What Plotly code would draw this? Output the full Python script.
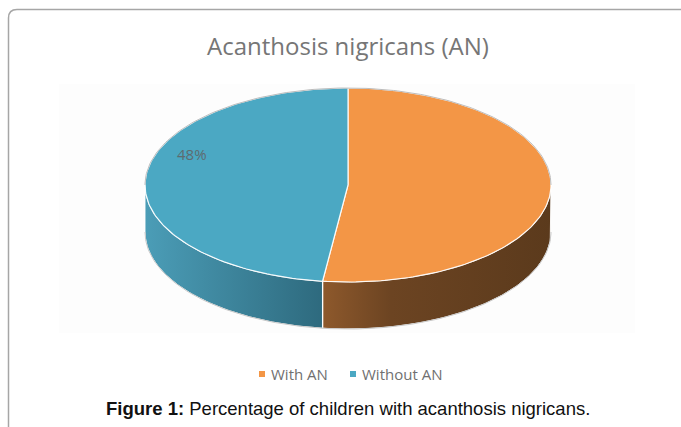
import numpy as np
import plotly.graph_objects as go

# Survey result: share of children with / without acanthosis nigricans
categories = ["With AN", "Without AN"]
percentages = [52, 48]

top_colors = ["#F39646", "#4BA8C3"]
side_scales = [
    [[0, "#8E592C"], [0.3, "#6C4422"], [1, "#5B3A1C"]],
    [[0, "#4B9DB7"], [1, "#2E6A7E"]],
]

W, H = 681, 427
cx, cy = 348, 185          # centre of pie top (pixels)
rx, ry = 203, 97           # ellipse radii of pie top
depth = 47                 # thickness of the pie

def pt(theta_deg, dy=0.0):
    t = np.radians(theta_deg)
    return cx + rx * np.cos(t), cy - ry * np.sin(t) + dy

def arc(a0, a1, dy=0.0, n=160):
    th = np.linspace(a0, a1, n)
    xs, ys = pt(th, dy)
    return list(xs), list(ys)

fig = go.Figure()

# slice angle ranges: start at 12 o'clock, go clockwise
total = sum(percentages)
spans = []
start = 90.0
for v in percentages:
    sweep = 360.0 * v / total
    spans.append((start - sweep, start))   # (low, high) in math degrees
    start -= sweep

# side walls: only the front half (180..360 deg) is visible
for (lo, hi), scale in zip(spans, side_scales):
    lo_n, hi_n = lo % 360, (hi % 360) or 360
    if lo_n > hi_n:
        segs = [(lo_n, 360), (0, hi_n)]
    else:
        segs = [(lo_n, hi_n)]
    for a, b in segs:
        a2, b2 = max(a, 180), min(b, 360)
        if b2 <= a2:
            continue
        tx, ty = arc(a2, b2)
        bx, by = arc(b2, a2, dy=depth)
        fig.add_trace(go.Scatter(
            x=tx + bx + [tx[0]], y=ty + by + [ty[0]],
            mode="lines", fill="toself",
            fillgradient=dict(type="horizontal", colorscale=scale),
            line=dict(color="rgba(255,255,255,0.9)", width=1),
            hoverinfo="skip", showlegend=False))
        # edge between slices on the wall
        for ang in (a2, b2):
            if 180 < ang < 360:
                x0, y0 = pt(ang)
                fig.add_trace(go.Scatter(
                    x=[x0, x0], y=[y0, y0 + depth], mode="lines",
                    line=dict(color="rgba(255,255,255,0.85)", width=1.2),
                    hoverinfo="skip", showlegend=False))

# bottom rim outline
bx, by = arc(180, 360, dy=depth)
fig.add_trace(go.Scatter(x=bx, y=by, mode="lines",
                         line=dict(color="#C8C8C8", width=1),
                         hoverinfo="skip", showlegend=False))

# top faces
for (lo, hi), col in zip(spans, top_colors):
    ax, ay = arc(lo, hi)
    fig.add_trace(go.Scatter(
        x=[cx] + ax + [cx], y=[cy] + ay + [cy],
        mode="lines", fill="toself", fillcolor=col,
        line=dict(color="rgba(255,255,255,0.9)", width=1.2),
        hoverinfo="skip", showlegend=False))

# light grey outline along the back rim
ox, oy = arc(0, 180)
fig.add_trace(go.Scatter(x=ox, y=oy, mode="lines",
                         line=dict(color="#BDBDBD", width=1),
                         hoverinfo="skip", showlegend=False))

shapes = [
    # faint plot-area background
    dict(type="rect", xref="x", yref="y", x0=59, x1=635, y0=84, y1=333,
         fillcolor="#FDFDFD", line=dict(width=0), layer="below"),
    # figure frame with rounded corner
    dict(type="path", xref="x", yref="y",
         path="M 8.5,427 L 8.5,18 Q 8.5,9.5 17,9.5 L 681,9.5",
         line=dict(color="#A6A6A6", width=1.5)),
]

annotations = [
    dict(x=cx, y=45, xref="x", yref="y", text="Acanthosis nigricans (AN)",
         showarrow=False, font=dict(family="Open Sans", size=24, color="#767676")),
    dict(x=192, y=154, xref="x", yref="y", text=f"{percentages[1]}%",
         showarrow=False, font=dict(family="Open Sans", size=15, color="#5E6B70")),
    dict(x=cx, y=408, xref="x", yref="y",
         text="<b>Figure 1:</b> Percentage of children with acanthosis nigricans.",
         showarrow=False, font=dict(family="Liberation Sans", size=18.5, color="#111111")),
]

# legend: small squares with labels
legend_x = [262, 353]
for name, col, lx in zip(categories, top_colors, legend_x):
    shapes.append(dict(type="rect", xref="x", yref="y",
                       x0=lx - 3, x1=lx + 3, y0=371, y1=377,
                       fillcolor=col, line=dict(width=0)))
    annotations.append(dict(x=lx + 7, y=374, xref="x", yref="y", text=name,
                            xanchor="left", showarrow=False,
                            font=dict(family="Open Sans", size=15, color="#707070")))

fig.update_layout(
    width=W, height=H,
    margin=dict(l=0, r=0, t=0, b=0),
    paper_bgcolor="white", plot_bgcolor="white",
    xaxis=dict(range=[0, W], visible=False, fixedrange=True),
    yaxis=dict(range=[H, 0], visible=False, fixedrange=True),
    shapes=shapes, annotations=annotations,
    showlegend=False,
)

fig.write_html("out.html")
